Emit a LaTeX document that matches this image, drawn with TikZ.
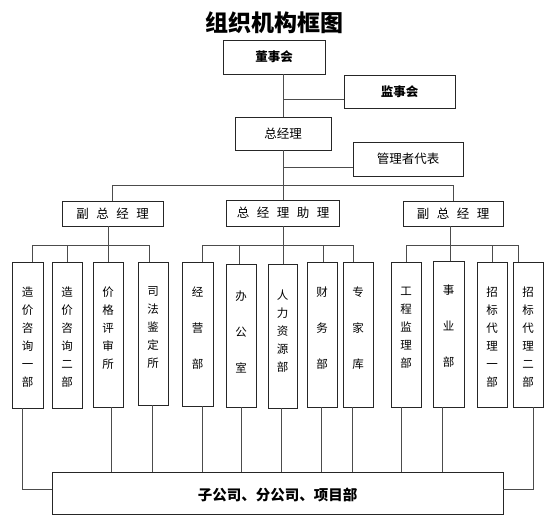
\documentclass[tikz,border=0pt]{standalone}
\usepackage{fontspec}
\newfontfamily\cjk{Noto Sans CJK SC}
\tikzset{
  box/.style={draw=black!85, line width=0.9pt, rectangle, inner sep=0pt, font=\cjk\fontsize{12.5}{14}\selectfont},
  boxb/.style={box, font=\cjk\bfseries\fontsize{12.5}{14}\selectfont},
  vbox/.style={draw=black!85, line width=0.9pt, rectangle, inner sep=0pt, minimum width=30pt},
  vtext/.style={anchor=north, inner sep=0pt, align=center, font=\cjk\fontsize{11.5}{18}\selectfont},
  conn/.style={draw=black!70, line width=1pt},
}
\newcommand{\gp}{\hspace{7.5pt}}
\begin{document}
\begin{tikzpicture}[x=1pt,y=-1pt]
\useasboundingbox (0,0) rectangle (559,530);
% title
\node[inner sep=0pt, font=\cjk\bfseries\fontsize{23}{25}\selectfont] (title) at (274,23) {组织机构框图};
% upper boxes
\node[boxb, minimum width=102pt, minimum height=34pt] (dsh) at (274,57) {董事会};
\node[boxb, minimum width=111pt, minimum height=33pt] (jsh) at (399.5,91.5) {监事会};
\node[box, minimum width=96pt, minimum height=33pt] (zjl) at (283,133.5) {总经理};
\node[box, minimum width=110pt, minimum height=34pt] (glz) at (408,159) {管理者代表};
\node[box, minimum width=101pt, minimum height=25pt] (fz1) at (112.5,213.5) {副\gp 总\gp 经\gp 理};
\node[box, minimum width=113pt, minimum height=26pt] (zz) at (283,213) {总\gp 经\gp 理\gp 助\gp 理};
\node[box, minimum width=100pt, minimum height=25pt] (fz2) at (453,213.5) {副\gp 总\gp 经\gp 理};
% department boxes
\node[vbox, minimum width=31pt, minimum height=146pt] (b1) at (27.5,335) {};
\node[vbox, minimum height=146pt] (b2) at (67,335) {};
\node[vbox, minimum height=145pt] (b3) at (108,334.5) {};
\node[vbox, minimum height=143pt] (b4) at (153,333.5) {};
\node[vbox, minimum width=31pt, minimum height=144pt] (b5) at (197.5,334) {};
\node[vbox, minimum height=143pt] (b6) at (241,335.5) {};
\node[vbox, minimum width=29pt, minimum height=144pt] (b7) at (282.5,336) {};
\node[vbox, minimum height=145pt] (b8) at (322,334.5) {};
\node[vbox, minimum height=145pt] (b9) at (358,334.5) {};
\node[vbox, minimum height=145pt] (b10) at (406,334.5) {};
\node[vbox, minimum width=31pt, minimum height=146pt] (b11) at (448.5,334) {};
\node[vbox, minimum height=145pt] (b12) at (492,334.5) {};
\node[vbox, minimum height=145pt] (b13) at (528,334.5) {};
% department texts
\node[vtext] (t1) at ([yshift=-25pt]b1.north) {造\\价\\咨\\询\\一\\部};
\node[vtext] (t2) at ([yshift=-25pt]b2.north) {造\\价\\咨\\询\\二\\部};
\node[vtext] (t3) at ([yshift=-25pt]b3.north) {价\\格\\评\\审\\所};
\node[vtext] (t4) at ([yshift=-25pt]b4.north) {司\\法\\鉴\\定\\所};
\node[vtext] (t5) at ([yshift=-25pt]b5.north) {经\\[18pt]营\\[18pt]部};
\node[vtext] (t6) at ([yshift=-27.5pt]b6.north) {办\\[18pt]公\\[18pt]室};
\node[vtext] (t7) at ([yshift=-26pt]b7.north) {人\\力\\资\\源\\部};
\node[vtext] (t8) at ([yshift=-25pt]b8.north) {财\\[18pt]务\\[18pt]部};
\node[vtext] (t9) at ([yshift=-25pt]b9.north) {专\\[18pt]家\\[18pt]库};
\node[vtext] (t10) at ([yshift=-25pt]b10.north) {工\\程\\监\\理\\部};
\node[vtext] (t11) at ([yshift=-24pt]b11.north) {事\\[18pt]业\\[18pt]部};
\node[vtext] (t12) at ([yshift=-25pt]b12.north) {招\\标\\代\\理\\一\\部};
\node[vtext] (t13) at ([yshift=-25pt]b13.north) {招\\标\\代\\理\\二\\部};
% bottom box
\node[draw=black!85, line width=0.9pt, rectangle, inner sep=0pt, minimum width=451pt, minimum height=42pt] (big) at (277.5,493) {};
\node[inner sep=0pt, font=\cjk\bfseries\fontsize{14.5}{16}\selectfont] (bigt) at (277.5,495) {子公司、分公司、项目部};
% upper connectors
\draw[conn] (dsh.south -| zjl.north) -- (zjl.north);
\coordinate (j1) at (283,99);
\draw[conn] (j1) -- (j1 -| jsh.west);
\draw[conn] (zjl.south) -- (zz.north);
\coordinate (g1) at (283,167);
\draw[conn] (g1) -- (g1 -| glz.west);
\coordinate (bus) at (283,185);
\draw[conn] (fz1.north) -- (fz1.north |- bus) -- (fz2.north |- bus) -- (fz2.north);
% sub-buses
\coordinate (la) at (32,245);
\coordinate (lb) at (149,245);
\coordinate (lc) at (108,245);
\draw[conn] (la) -- (lb);
\draw[conn] (fz1.south -| lc) -- (lc);
\coordinate (ma) at (202,245);
\coordinate (mb) at (353,245);
\draw[conn] (ma) -- (mb);
\draw[conn] (zz.south) -- (zz.south |- ma);
\coordinate (ra) at (406,245);
\coordinate (rb) at (518,245);
\coordinate (rc) at (450,245);
\draw[conn] (ra) -- (rb);
\draw[conn] (fz2.south -| rc) -- (rc);
\foreach \b/\x in {b1/32,b2/67,b3/108,b4/149,b5/202,b6/239,b7/283,b8/323,b9/353,b10/406,b11/450,b12/492,b13/518}{
  \coordinate (tp) at (\x,245);
  \draw[conn] (tp) -- (tp |- \b.north);
}
% lower connectors
\foreach \b/\x in {b3/111,b4/152,b5/202,b6/241,b7/281,b8/321,b9/352,b10/401,b11/442}{
  \coordinate (bp) at (\x,472);
  \draw[conn] (bp |- \b.south) -- (bp |- big.north);
}
\coordinate (s1) at (22,489);
\draw[conn] (s1 |- b1.south) -- (s1) -- (s1 -| big.west);
\coordinate (s2) at (533,489);
\draw[conn] (s2 |- b13.south) -- (s2) -- (s2 -| big.east);
\end{tikzpicture}
\end{document}
